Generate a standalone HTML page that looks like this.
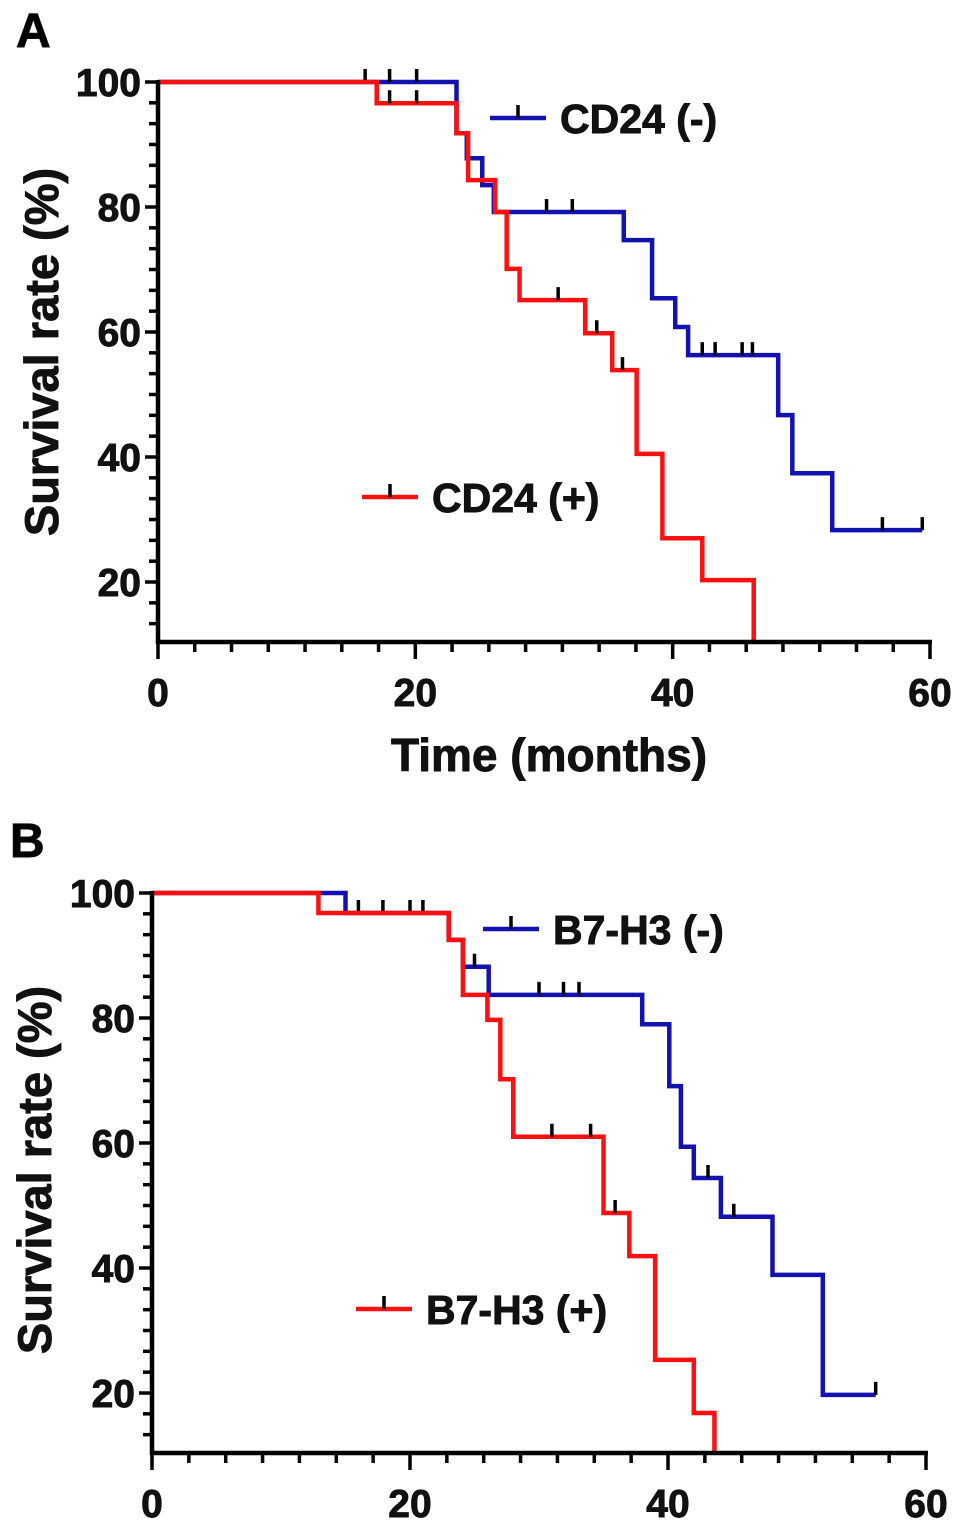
<!DOCTYPE html>
<html><head><meta charset="utf-8">
<style>
html,body{margin:0;padding:0;background:#fff;}
svg{display:block;font-family:"Liberation Sans",Arial,sans-serif;font-weight:bold;}
text{stroke:#111;stroke-width:0.9px;}
</style></head>
<body>
<svg id="chart" width="969" height="1530" viewBox="0 0 969 1530">
</svg>
<script>
// Panel A data (months, survival %)
const aBlueT = [0, 23.2, 24.0, 25.2, 26.1, 36.2, 38.4, 40.2, 41.2, 48.2, 49.3, 52.4, 59.4];
const aBlueS = [100, 91.8, 87.8, 83.5, 79.2, 74.7, 65.4, 60.8, 56.3, 46.7, 37.4, 28.3, 28.3];
const aBlueCensorT = [16.1, 18.0, 20.1, 30.2, 32.2, 42.3, 43.3, 45.4, 46.2, 56.3, 59.4];
const aRedT = [0, 17.0, 23.2, 24.1, 26.2, 27.1, 28.1, 33.2, 35.3, 37.2, 39.2, 42.3, 46.3];
const aRedS = [100, 96.6, 91.8, 84.3, 79.2, 70.1, 65.1, 59.8, 53.9, 40.5, 27.0, 20.3, 0];
const aRedCensorT = [18.0, 20.1, 31.1, 34.1, 36.1];
// Panel B data
const bBlueT = [0, 15.0, 23.0, 24.1, 26.1, 38.0, 40.1, 41.0, 42.0, 44.1, 48.1, 52.0, 56.1];
const bBlueS = [100, 96.8, 92.5, 88.2, 83.7, 79.0, 69.1, 59.4, 54.4, 48.2, 38.9, 19.7, 19.7];
const bBlueCensorT = [16.0, 17.9, 20.0, 21.0, 25.0, 30.0, 31.9, 33.1, 43.1, 45.1, 56.1];
const bRedT = [0, 12.9, 23.0, 24.1, 26.0, 27.0, 28.0, 35.0, 37.0, 39.0, 42.0, 43.6];
const bRedS = [100, 96.8, 92.5, 83.7, 79.7, 70.2, 61.0, 48.8, 41.9, 25.3, 16.8, 0];
const bRedCensorT = [31.0, 34.0, 35.9];
const xTicks = [0, 20, 40, 60];
const yTicks = [20, 40, 60, 80, 100];

const NS = "http://www.w3.org/2000/svg";
const svg = document.getElementById("chart");
function mk(tag, attrs, parent){const e=document.createElementNS(NS,tag);for(const k in attrs)e.setAttribute(k,attrs[k]);(parent||svg).appendChild(e);return e;}

function stepVal(T,S,t){let v=S[0];for(let i=0;i<T.length;i++){if(T[i]<=t)v=S[i];}return v;}

function panel(p){
  const g = mk("g",{});
  
  
  const X = t => p.x0 + t*(p.x1-p.x0)/60;
  const Y = s => p.y100 + (100-s)*6.25;
  const yMinS = 100 - (p.yb - p.y100)/6.25;
  const clip = v => Math.max(v, yMinS);
  function series(T,S,C,color,nm){
    let d = "M"+X(T[0])+","+Y(clip(S[0]));
    for(let i=1;i<T.length;i++){
      d += " H"+X(T[i])+" V"+Y(clip(S[i]));
    }
    const path = mk("path",{d:d,fill:"none",stroke:color,"stroke-width":4.5,"stroke-linejoin":"miter"},g);
    
    
    C.forEach(t=>{
      const v = stepVal(T,S,t);
      const l = mk("line",{x1:X(t),x2:X(t),y1:Y(v)-13,y2:Y(v),stroke:"#000","stroke-width":3.5},g);
      
      
    });
  }
  series(p.bT,p.bS,p.bC,"#1212b0",p.bName);
  series(p.rT,p.rS,p.rC,"#ff1010",p.rName);
  const ya = mk("line",{x1:p.x0,x2:p.x0,y1:p.y100-2,y2:p.yb+2,stroke:"#000","stroke-width":4.5},g);
  
  
  const xa = mk("line",{x1:p.x0-2,x2:p.x1+2,y1:p.yb,y2:p.yb,stroke:"#000","stroke-width":4.5},g);
  
  
  for(let s=100; s>yMinS; s-=10/3){
    const major = Math.abs(s/20-Math.round(s/20))<0.01;
    mk("line",{x1:p.x0-(major?13:9),x2:p.x0,y1:Y(s),y2:Y(s),stroke:"#000","stroke-width":3.5},g);
  }
  yTicks.forEach(s=>{
    const t = mk("text",{x:p.x0-17,y:Y(s)+14,"text-anchor":"end","font-size":39,fill:"#111"},g);
    t.textContent = s;
    
    
  });
  for(let i=0;i<=21;i++){
    const m = i*20/7;
    const major = i%7===0;
    mk("line",{x1:X(m),x2:X(m),y1:p.yb,y2:p.yb+(major?17:10),stroke:"#000","stroke-width":3.5},g);
  }
  xTicks.forEach(m=>{
    const t = mk("text",{x:X(m),y:p.yb+64,"text-anchor":"middle","font-size":39,fill:"#111"},g);
    t.textContent = m;
    
    
  });
  const yl = mk("text",{x:0,y:0,transform:"translate("+p.ylx+","+p.yly+") rotate(-90)","text-anchor":"middle","font-size":47,fill:"#111"},g);
  yl.textContent = "Survival rate (%)";
  
  
  const pl = mk("text",{x:p.lx,y:p.ly,"font-size":48,fill:"#000"},g);
  pl.textContent = p.letter;
  
  
  function legend(x,y,color,label,nm){
    const lg = mk("g",{},g);
    
    
    mk("line",{x1:x,x2:x+56,y1:y,y2:y,stroke:color,"stroke-width":4.5},lg);
    mk("line",{x1:x+28,x2:x+28,y1:y-13,y2:y,stroke:"#000","stroke-width":3.5},lg);
    const t = mk("text",{x:x+70,y:y+15,"font-size":41,fill:"#111"},lg);
    t.textContent = label;
  }
  legend(p.lbx,p.lby,"#1212b0",p.lbText,"legend-entry-negative");
  legend(p.lrx,p.lry,"#ff1010",p.lrText,"legend-entry-positive");
}

panel({name:"panel-a-cd24",x0:158,x1:930,y100:82,yb:642,bT:aBlueT,bS:aBlueS,bC:aBlueCensorT,rT:aRedT,rS:aRedS,rC:aRedCensorT,
  bName:"cd24-negative",rName:"cd24-positive",ylx:58,yly:352,letter:"A",lx:16,ly:47,
  lbx:490,lby:118,lbText:"CD24 (-)",lrx:362,lry:497,lrText:"CD24 (+)"});
panel({name:"panel-b-b7h3",x0:152,x1:926,y100:893,yb:1453,bT:bBlueT,bS:bBlueS,bC:bBlueCensorT,rT:bRedT,rS:bRedS,rC:bRedCensorT,
  bName:"b7h3-negative",rName:"b7h3-positive",ylx:51,yly:1170,letter:"B",lx:10,ly:857,
  lbx:483,lby:929,lbText:"B7-H3 (-)",lrx:356,lry:1309,lrText:"B7-H3 (+)"});

const xt = mk("text",{x:549,y:771,"text-anchor":"middle","font-size":46,fill:"#111"});
xt.textContent = "Time (months)";


</script>
</body></html>
